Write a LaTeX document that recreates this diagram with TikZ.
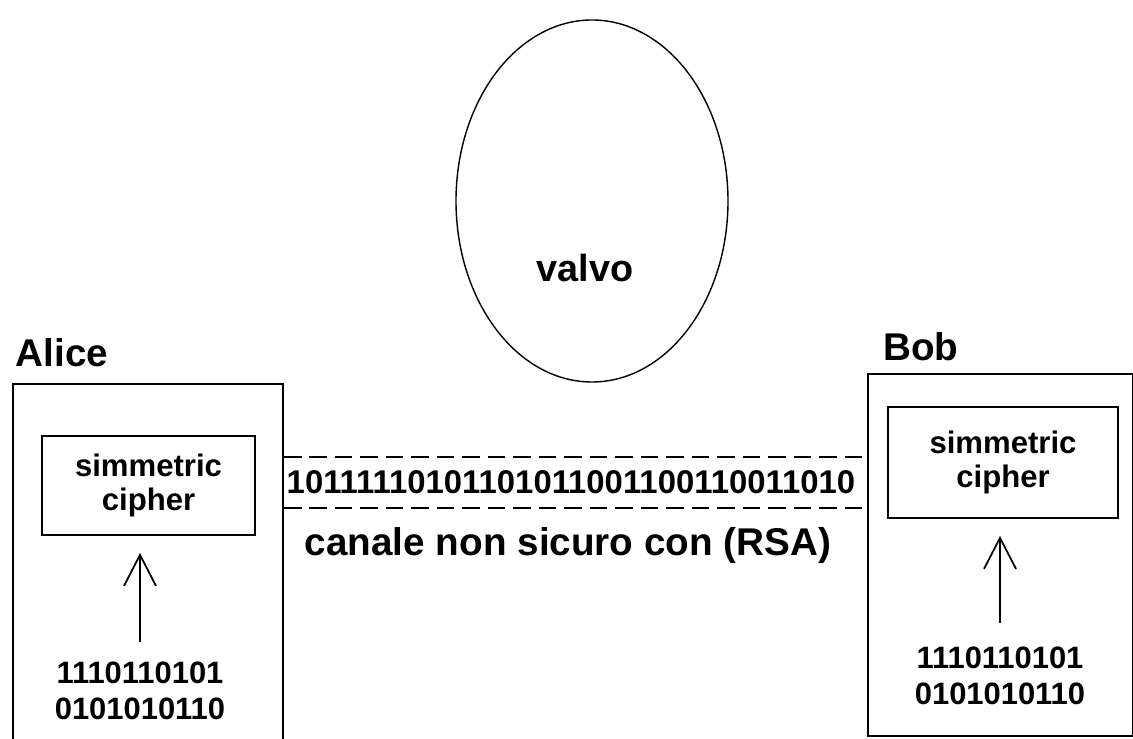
\documentclass[tikz,border=0pt]{standalone}
\usepackage{fontspec}
\setmainfont{Liberation Sans}
\usetikzlibrary{shapes.geometric,arrows.meta,positioning}

\begin{document}
\begin{tikzpicture}[x=0.2mm,y=-0.2mm,
    party/.style={draw,line width=1.1pt,inner sep=0pt},
    cbox/.style={draw,line width=1.1pt,align=center,inner sep=0pt,font=\fontsize{17.7}{19.5}\selectfont\bfseries},
    bits/.style={align=center,inner sep=0pt,anchor=north,font=\fontsize{17.6}{20.5}\selectfont\bfseries},
    lbl/.style={inner sep=0pt,font=\fontsize{22}{26}\selectfont\bfseries},
    chanline/.style={line width=1pt,dash pattern=on 10pt off 4.5pt},
    upar/.style={line width=1pt,-{Straight Barb[length=6.2mm,width=6.4mm]}}]

    \useasboundingbox (0,0) rectangle (1133,739);

    % Valvo
    \node[draw,ellipse,line width=0.8pt,inner sep=0pt,minimum width=54.4mm,minimum height=72.4mm] (eve) at (592,201) {};
    \node[lbl,font=\fontsize{21.5}{26}\selectfont\bfseries] (evename) at (585,268) {valvo};

    % Alice
    \node[party,minimum width=54mm,minimum height=80mm,anchor=north west] (alice) at (12,383) {};
    \node[lbl] (alicename) at (62,353) {Alice};
    \node[cbox,minimum width=42.6mm,minimum height=19.8mm] (acipher) at (148.5,485.5) {simmetric\\cipher};
    \node[bits] (abits) at (140,662) {1110110101\\0101010110};
    \draw[upar,shorten <=4mm,shorten >=3.4mm] (abits.north) -- (abits.north |- acipher.south);

    % Bob
    \node[party,minimum width=53mm,minimum height=72.4mm,anchor=north west] (bob) at (867,373) {};
    \node[lbl] (bobname) at (921,347) {Bob};
    \node[cbox,minimum width=46mm,minimum height=22.2mm] (bcipher) at (1003,462.5) {simmetric\\cipher};
    \node[bits] (bbits) at (1000,647) {1110110101\\0101010110};
    \draw[upar,shorten <=4.8mm,shorten >=3.4mm] (bbits.north) -- (bbits.north |- bcipher.south);

    % Channel
    \node[inner sep=0pt,minimum height=10.2mm,font=\fontsize{18.7}{20}\selectfont\bfseries] (chan) at (571,482.5) {10111110101101011001100110011010};
    \draw[chanline] (alice.east |- chan.north) -- (bob.west |- chan.north);
    \draw[chanline] (alice.east |- chan.south) -- (bob.west |- chan.south);
    \node[lbl] (channame) at (568,546) {canale non sicuro con (RSA)};

\end{tikzpicture}
\end{document}
